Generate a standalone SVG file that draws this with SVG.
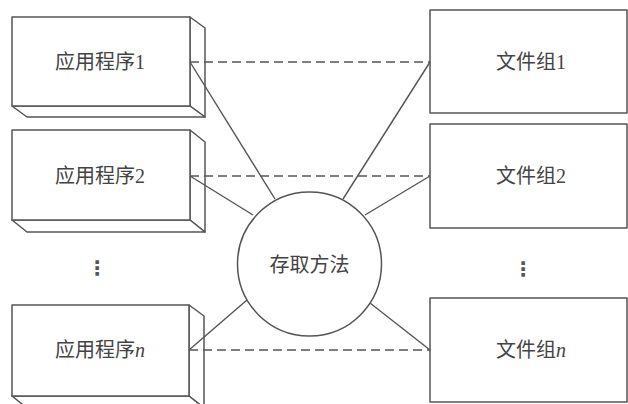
<svg xmlns="http://www.w3.org/2000/svg" width="628" height="404" viewBox="0 0 628 404">
<style>
.s{fill:#fff;stroke:#555;stroke-width:1.5;stroke-linejoin:round}
.ln{stroke:#555;stroke-width:1.4;fill:none}
.d{stroke:#555;stroke-width:1.4;fill:none;stroke-dasharray:9 5}
.t{font-family:"Liberation Serif","Noto Sans CJK SC",serif;font-size:20px;fill:#444;text-anchor:middle;dominant-baseline:central}
.dots{font-family:"DejaVu Sans",sans-serif;font-size:20px;font-weight:bold;fill:#555;text-anchor:middle;dominant-baseline:central}
</style>
<rect width="628" height="404" fill="#fff"/>
<g id="app1">
<polygon class="s" points="190,17 205,28 205,117 190,106"/>
<polygon class="s" points="12,106 190,106 205,117 27,117"/>
<rect class="s" x="12" y="17" width="178" height="89"/>
<text class="t" x="100" y="62">应用程序1</text>
</g>
<g id="app2">
<polygon class="s" points="190,130 205,142 205,232 190,220"/>
<polygon class="s" points="12,220 190,220 205,232 27,232"/>
<rect class="s" x="12" y="130" width="178" height="90"/>
<text class="t" x="100" y="176">应用程序2</text>
</g>
<g id="appdots"><text class="dots" x="97" y="268">⋮</text></g>
<g id="appn">
<polygon class="s" points="189,305 204,316 204,408 189,396"/>
<polygon class="s" points="12,396 189,396 204,408 27,408"/>
<rect class="s" x="12" y="305" width="177" height="91"/>
<text class="t" x="100" y="350">应用程序<tspan font-style="italic">n</tspan></text>
</g>
<g id="file1">
<rect class="s" x="430" y="10" width="197" height="103"/>
<text class="t" x="531" y="62">文件组1</text>
</g>
<g id="file2">
<rect class="s" x="430" y="124" width="197" height="104"/>
<text class="t" x="531" y="176">文件组2</text>
</g>
<g id="filedots"><text class="dots" x="523" y="269">⋮</text></g>
<g id="filen">
<rect class="s" x="430" y="298" width="197" height="104"/>
<text class="t" x="531" y="350">文件组<tspan font-style="italic">n</tspan></text>
</g>
<g id="access">
<circle class="s" cx="309.5" cy="264" r="72"/>
<text class="t" x="309.5" y="265">存取方法</text>
</g>
<g id="connectors">
<line class="d" x1="190" y1="62" x2="430" y2="62"/>
<line class="d" x1="190" y1="176" x2="430" y2="176"/>
<line class="d" x1="189" y1="350" x2="430" y2="350"/>
<line class="ln" x1="190" y1="62" x2="275" y2="199"/>
<line class="ln" x1="190" y1="176" x2="253" y2="215"/>
<line class="ln" x1="189" y1="350" x2="247" y2="300"/>
<line class="ln" x1="430" y1="62" x2="343" y2="199"/>
<line class="ln" x1="430" y1="176" x2="365" y2="215"/>
<line class="ln" x1="430" y1="350" x2="370" y2="303"/>
</g>
</svg>
